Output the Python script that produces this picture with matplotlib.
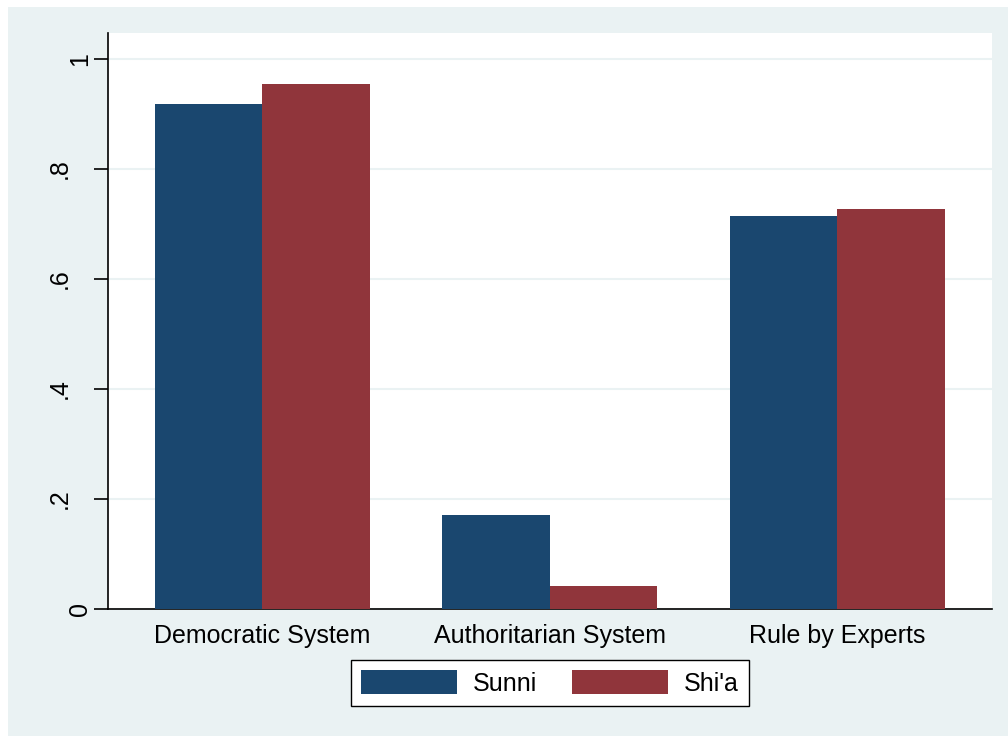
import matplotlib
matplotlib.use('Agg')
import matplotlib.pyplot as plt
import numpy as np
from matplotlib.patches import Rectangle

categories = ['Democratic System', 'Authoritarian System', 'Rule by Experts']
sunni = [0.918, 0.171, 0.714]
shia = [0.954, 0.042, 0.727]
yticks = [0, 0.2, 0.4, 0.6, 0.8, 1.0]
ytick_labels = ['0', '.2', '.4', '.6', '.8', '1']

plt.rcParams['font.family'] = ['Liberation Sans', 'DejaVu Sans']
FS = 18

W, H = 1008, 736
fig = plt.figure(figsize=(W / 100, H / 100), dpi=100, facecolor='white')
# Stata-style graph region
fig.patches.append(Rectangle((8 / W, 0), 1 - 8 / W, 1 - 7 / H, transform=fig.transFigure,
                             facecolor='#EAF2F3', edgecolor='none', zorder=-10))

ax = fig.add_axes([108 / W, 1 - 609 / H, (992 - 108) / W, (609 - 33) / H])
ax.set_zorder(1)
ax.set_facecolor('white')

x = np.arange(1, len(categories) + 1)
w = 0.374
ax.bar(x - w / 2, sunni, width=w, color='#1A476F', label='Sunni', zorder=3)
ax.bar(x + w / 2, shia, width=w, color='#90353B', label="Shi'a", zorder=3)

ax.set_xlim(0.464, 3.539)
ax.set_ylim(0, 1.047)
ax.set_yticks(yticks)
ax.set_yticklabels([])
ax.set_xticks(x)
ax.set_xticklabels(categories, fontsize=FS)
ax.tick_params(axis='y', length=10, width=1.2)
ax.tick_params(axis='x', length=0, pad=11)
ax.grid(True, axis='y', color='#EAF2F3', linewidth=1.5, zorder=0)

# rotated y labels, placed like the Stata output
for v, lab in zip(yticks, ytick_labels):
    off = 26 if lab.startswith('.') else 11.5
    ax.annotate(lab, xy=(0, v), xycoords=('axes fraction', 'data'),
                xytext=(-off, 0), textcoords='offset points',
                rotation=90, ha='right', va='center', fontsize=FS,
                annotation_clip=False)

for s in ['top', 'right']:
    ax.spines[s].set_visible(False)
for s in ['left', 'bottom']:
    ax.spines[s].set_linewidth(1.2)
    ax.spines[s].set_color('black')

leg = fig.legend(loc='center', bbox_to_anchor=(550 / W, 1 - 683 / H), ncol=2, fontsize=FS,
                 frameon=True, fancybox=False, edgecolor='black', facecolor='white',
                 framealpha=1, handlelength=3.84, handleheight=1.04, columnspacing=1.4,
                 handletextpad=0.64, borderpad=0.4)
leg.get_frame().set_linewidth(1.0)
leg.set_zorder(5)

fig.savefig('out.png', dpi=100, facecolor=fig.get_facecolor())
